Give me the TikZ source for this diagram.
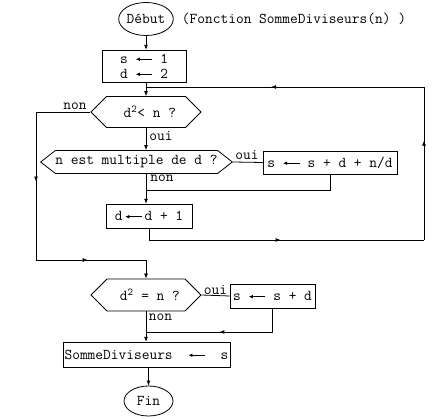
\documentclass[tikz,border=0pt]{standalone}
\usepackage{fontspec}
\usetikzlibrary{shapes.geometric,shapes.symbols,arrows.meta,decorations.markings}

% petite fleche d'affectation
\newcommand{\fleche}{\tikz[baseline=-0.6ex]\draw[line width=0.6pt,-{Latex[length=4pt,width=3.5pt]}] (1.1em,0) -- (0,0);}

\tikzset{
  boite/.style={draw, rectangle, inner sep=0pt},
  test/.style={draw, signal, signal to=west and east, inner sep=0pt},
  terminal/.style={draw, ellipse, inner sep=0pt},
  etiq/.style={inner sep=0pt},
  fl/.style={-{Latex[length=5pt,width=4pt]}},
  flmilieu/.style={postaction=decorate, decoration={markings, mark=at position #1 with {\arrow{Latex[length=5pt,width=4pt]}}}},
  flmilieu/.default=0.5
}

\begin{document}
\begin{tikzpicture}[x=1pt, y=-1pt, line width=0.8pt, every node/.style={font=\ttfamily\fontsize{15}{15}\selectfont}]
\useasboundingbox (0,0) rectangle (436,419);

% Debut
\node[terminal, minimum width=48pt, minimum height=33pt] (debut) at (146,19) {Début};
\node (titre) at (294,19) {(Fonction SommeDiviseurs(n) )};

% Initialisation
\node[boite, minimum width=84pt, minimum height=32pt, align=center] (init) at (144,66) {s \fleche{} 1\\d \fleche{} 2};

% Boucle
\node[test, minimum width=110pt, minimum height=31pt] (test1) at (146,112) {\hphantom{n}d\textsuperscript{2}< n ?};
\node[test, signal pointer angle=76, minimum width=185pt, minimum height=23pt] (test2) at (136.5,162) {n est multiple de d ?};
\node[boite, minimum width=134pt, minimum height=23pt] (maj1) at (330,162.5) {s \fleche{} s + d + n/d};
\node[boite, minimum width=86pt, minimum height=24pt] (incr) at (149,216) {d\,\fleche\,d + 1};

% Carre parfait
\node[test, minimum width=110pt, minimum height=32pt] (test3) at (146,295) {\hphantom{n}d\textsuperscript{2} = n ?};
\node[boite, minimum width=85pt, minimum height=24pt] (maj2) at (272.5,296) {s \fleche{} s + d};

% Resultat et fin
\node[boite, minimum width=167pt, minimum height=25pt] (res) at (146.5,354.5) {SommeDiviseurs \ \fleche\ \ s};
\node[terminal, minimum width=49pt, minimum height=30pt] (fin) at (148.5,401) {Fin};

% Etiquettes
\node[etiq] (non1) at (75,106) {non};
\node[etiq] (oui1) at (161,136) {oui};
\node[etiq] (oui2) at (247,155) {oui};
\node[etiq] (non2) at (162,178) {non};
\node[etiq] (oui3) at (215.5,290) {oui};
\node[etiq] (non3) at (160.5,317) {non};

% Points de passage
\coordinate (boucle) at (146,87);
\coordinate (hautdroit) at (424,87);
\coordinate (basdroit) at (424,240);
\coordinate (gauchehaut) at (36,112);
\coordinate (gauchebas) at (36,260);
\coordinate (jonction) at (146,260);
\coordinate (retour1) at (146,190);
\coordinate (retour2) at (146,332);

% Fleches
\draw[fl] (debut.south) -- (debut.south |- init.north);
\draw[fl] (init.south -| boucle) -- (boucle |- test1.north);
\draw[fl] (test1.south) -- (test1.south |- test2.north);
\draw (test2.east) -- (maj1.west);
\draw (maj1.south) -- (maj1.south |- retour1) -- (retour1);
\draw[fl] (test2.south -| retour1) -- (retour1 |- incr.north);
\draw[flmilieu] (incr.south) -- (incr.south |- basdroit) -- (basdroit);
\draw[flmilieu=0.65] (basdroit) -- (hautdroit);
\draw[flmilieu=0.55] (hautdroit) -- (boucle);
\draw (test1.west) -- (gauchehaut);
\draw[flmilieu=0.47] (gauchehaut) -- (gauchebas);
\draw[flmilieu=0.47] (gauchebas) -- (jonction);
\draw[fl] (jonction) -- (jonction |- test3.north);
\draw (test3.east) -- (maj2.west);
\draw (maj2.south) -- (maj2.south |- retour2);
\draw[flmilieu=0.42] (maj2.south |- retour2) -- (retour2);
\draw[fl] (test3.south) -- (test3.south |- res.north);
\draw[fl] (res.south -| fin) -- (fin.north);

\end{tikzpicture}
\end{document}
